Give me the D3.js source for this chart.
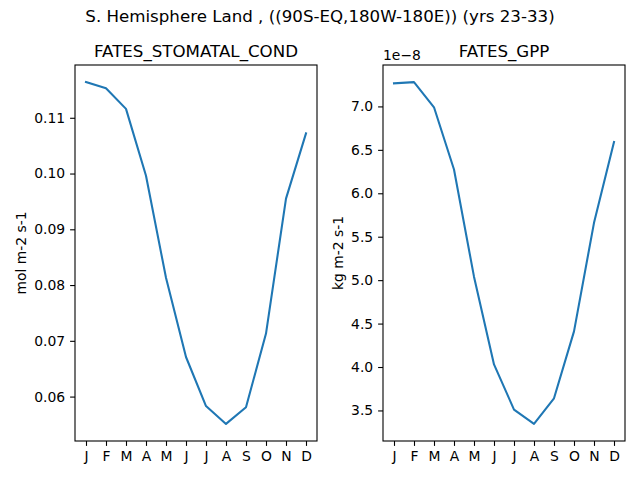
<!DOCTYPE html>
<html><head><meta charset="utf-8">
<script src="https://cdn.jsdelivr.net/npm/d3@7"></script>
<style>body{margin:0;background:#fff}svg{display:block;font-family:"DejaVu Sans",sans-serif}</style>
</head><body><div id="c"></div>
<script>
const months = ["J","F","M","A","M","J","J","A","S","O","N","D"];
const stomatalCond = [0.1164,0.1153,0.1116,0.0996,0.0813,0.0671,0.0583,0.0551,0.0581,0.0713,0.0955,0.1072];
const gpp = [7.266,7.28,6.99,6.274,5.04,4.03,3.51,3.345,3.64,4.41,5.66,6.59]; // x 1e-8
const stomatalTicks = [0.06,0.07,0.08,0.09,0.10,0.11];
const gppTicks = [3.5,4.0,4.5,5.0,5.5,6.0,6.5,7.0];

const W=640,H=480;
const svg=d3.select("#c").append("svg").attr("width",W).attr("height",H);
svg.append("text").attr("x",320).attr("y",22).attr("text-anchor","middle")
  .attr("font-size",16.67).text("S. Hemisphere Land , ((90S-EQ,180W-180E)) (yrs 23-33)");

function panel(x0,x1,y0,y1,data,ticks,fmt,title,ylabel,ylabX,offset){
  const g=svg.append("g");
  const x=d3.scaleLinear().domain([-0.55,11.55]).range([x0,x1]);
  const mn=d3.min(data),mx=d3.max(data),m=(mx-mn)*0.05;
  const y=d3.scaleLinear().domain([mn-m,mx+m]).range([y1,y0]);
  const line=d3.line().x((d,i)=>x(i)).y(d=>y(d));
  g.append("path").datum(data).attr("d",line).attr("fill","none")
    .attr("stroke","#1f77b4").attr("stroke-width",2.08).attr("stroke-linejoin","round").attr("stroke-linecap","square");
  const xa=g.append("g").attr("transform",`translate(0,${y1})`)
    .call(d3.axisBottom(x).tickValues(d3.range(12)).tickFormat(i=>months[i]).tickSize(4.9).tickPadding(4.9));
  const ya=g.append("g").attr("transform",`translate(${x0},0)`)
    .call(d3.axisLeft(y).tickValues(ticks).tickFormat(fmt).tickSize(4.9).tickPadding(4.9));
  [xa,ya].forEach(a=>{a.select(".domain").remove();a.selectAll("line").attr("stroke","#000").attr("stroke-width",1.1);
    a.selectAll("text").attr("font-size",13.9).attr("font-family","DejaVu Sans").attr("fill","#000");});
  g.append("rect").attr("x",x0).attr("y",y0).attr("width",x1-x0).attr("height",y1-y0)
    .attr("fill","none").attr("stroke","#000").attr("stroke-width",1.1);
  g.append("text").attr("x",(x0+x1)/2).attr("y",y0-8).attr("text-anchor","middle").attr("font-size",16.67).text(title);
  g.append("text").attr("transform",`translate(${ylabX},${(y0+y1)/2}) rotate(-90)`).attr("text-anchor","middle")
    .attr("font-size",13.9).text(ylabel);
  if(offset) g.append("text").attr("x",x0).attr("y",y0-5).attr("font-size",13.9).text(offset);
}
panel(75,317,65,441,stomatalCond,stomatalTicks,d3.format(".2f"),"FATES_STOMATAL_COND","mol m-2 s-1",26,null);
panel(383,625,65,441,gpp,gppTicks,d3.format(".1f"),"FATES_GPP","kg m-2 s-1",343,"1e\u22128");
</script></body></html>
